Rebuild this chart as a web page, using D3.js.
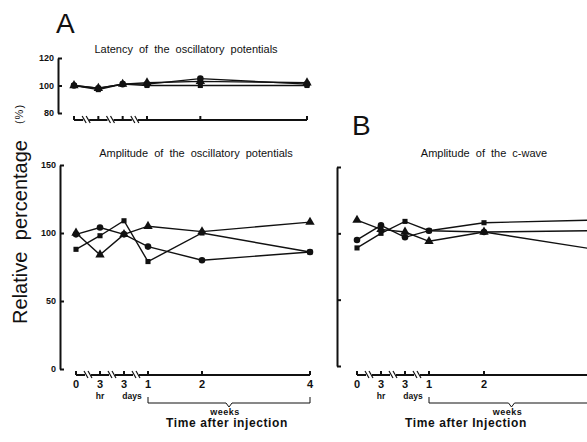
<!DOCTYPE html>
<html>
<head>
<meta charset="utf-8">
<script src="https://cdn.jsdelivr.net/npm/d3@7"></script>
<style>
body { margin: 0; background: #fff; }
text { font-family: "Liberation Sans", Arial, sans-serif; fill: #111; }
</style>
</head>
<body>
<script>
// time points after injection
var earlyKeys = ["0", "3 hr", "3 days"];
var earlyLabels = ["0", "3", "3"];
var earlyUnits = ["", "hr", "days"];
var weekLabels = [1, 2, 4];

// A top: latency of the oscillatory potentials (%)
var latCircle = [100, 98, 101, 101, 105, 101];
var latSquare = [100, 97, 101, 100, 100, 100];
var latTriangle = [100, 98, 101, 102, 103, 102];

// A bottom: amplitude of the oscillatory potentials (%)
var opCircle = [99, 104, 99, 90, 80, 86];
var opSquare = [88, 98, 109, 79, 100, 86];
var opTriangle = [100, 84, 99, 105, 101, 108];

// B: amplitude of the c-wave (%)
var cwCircle = [95, 106, 97, 102, 101, 88];
var cwSquare = [89, 100, 109, 102, 108, 110];
var cwTriangle = [110, 103, 101, 94, 101, 102];

var ampTicks = [0, 50, 100, 150];
var latTicks = [80, 100, 120];

var W = 587, H = 442;
var svg = d3.select("body").append("svg")
  .attr("width", W)
  .attr("height", H);

function drawPanel(p) {
  var g = svg.append("g");

  var early = d3.scalePoint().domain(earlyKeys.concat(["1 wk"])).range([p.x0, p.x1wk]);
  var weeks = d3.scaleLinear().domain([1, 4]).range([p.x1wk, p.x4wk]);
  var xAt = function(i) { return i < 3 ? early(earlyKeys[i]) : weeks(weekLabels[i - 3]); };

  var y = d3.scaleLinear().domain(p.domain).range(p.yRange);

  // y axis, ticks pointing inward
  var yAxis = d3.axisLeft(y).tickValues(p.ticks).tickSize(-4).tickSizeOuter(0).tickPadding(4);
  if (!p.yLabels) yAxis.tickFormat("");
  var ya = g.append("g")
    .attr("transform", `translate(${p.axisX},0)`)
    .call(yAxis);
  ya.selectAll("path, line").attr("stroke", "#111").attr("stroke-width", 2);
  ya.selectAll("text")
    .style("font-family", "Liberation Sans, Arial, sans-serif")
    .style("font-size", "9px")
    .style("font-weight", "bold")
    .attr("fill", "#111");

  // broken x axis
  var xs = [0, 1, 2, 3, 4, 5].map(xAt);
  var ax = g.append("g").attr("stroke", "#111").attr("stroke-width", 2).attr("fill", "none");
  var breaks = [0, 1, 2].map(function(i) { return (xs[i] + xs[i + 1]) / 2; });
  var segStart = xs[0];
  breaks.forEach(function(b) {
    ax.append("line").attr("x1", segStart).attr("x2", b - 3).attr("y1", p.axisY).attr("y2", p.axisY);
    [-2, 2].forEach(function(d) {
      ax.append("line")
        .attr("stroke-width", 1.2)
        .attr("x1", b + d - 2).attr("y1", p.axisY - 4)
        .attr("x2", b + d + 2).attr("y2", p.axisY + 3);
    });
    segStart = b + 3;
  });
  ax.append("line").attr("x1", segStart).attr("x2", xs[5]).attr("y1", p.axisY).attr("y2", p.axisY);
  xs.forEach(function(x) {
    ax.append("line").attr("x1", x).attr("x2", x).attr("y1", p.axisY).attr("y2", p.axisY - 4);
  });

  if (p.xLabels) {
    var lab = g.append("g").style("font-size", "11px").style("font-weight", "bold").attr("text-anchor", "middle");
    earlyLabels.concat(weekLabels.map(String)).forEach(function(t, i) {
      if (xs[i] > W - 6) return; // off the page in the original figure
      lab.append("text").attr("x", xs[i]).attr("y", p.axisY + 13).text(t);
    });
    var units = g.append("g").style("font-size", "8.5px").style("font-weight", "bold").attr("text-anchor", "middle");
    units.append("text").attr("x", xs[1]).attr("y", p.axisY + 24).text(earlyUnits[1]);
    units.append("text").attr("x", xs[2] + 8).attr("y", p.axisY + 24).text(earlyUnits[2]);

    // weeks bracket
    var by = p.axisY + 28;
    var mid = (xs[3] + xs[5]) / 2;
    g.append("path")
      .attr("fill", "none").attr("stroke", "#111").attr("stroke-width", 1)
      .attr("d", `M${xs[3]},${by - 6}V${by}H${mid - 3}L${mid},${by + 4}L${mid + 3},${by}H${xs[5]}V${by - 6}`);
    g.append("text").attr("x", mid - 4).attr("y", by + 12)
      .attr("text-anchor", "middle").style("font-size", "9px").style("font-weight", "bold")
      .style("letter-spacing", "0.5px").text("weeks");
    g.append("text").attr("x", p.captionX).attr("y", p.axisY + 52)
      .attr("text-anchor", "middle").style("font-size", "12px").style("font-weight", "bold")
      .style("letter-spacing", "0.6px")
      .text(p.caption);
  }

  g.append("text").attr("x", p.titleX).attr("y", p.titleY)
    .attr("text-anchor", "middle").style("font-size", "11px").style("word-spacing", "3px")
    .text(p.title);

  var line = d3.line().x(function(d, i) { return xAt(i); }).y(function(d) { return y(d); });
  var series = [
    { values: p.circle, shape: d3.symbolCircle, size: 34 },
    { values: p.square, shape: d3.symbolSquare, size: 26 },
    { values: p.triangle, shape: d3.symbolTriangle, size: 38 }
  ];
  series.forEach(function(s) {
    g.append("path").datum(s.values)
      .attr("fill", "none").attr("stroke", "#111").attr("stroke-width", 1.4)
      .attr("d", line);
  });
  series.forEach(function(s) {
    g.selectAll(null).data(s.values).enter().append("path")
      .attr("d", d3.symbol().type(s.shape).size(s.size))
      .attr("transform", function(d, i) { return `translate(${xAt(i)},${y(d)})`; })
      .attr("fill", "#111");
  });
}

// A top panel
drawPanel({
  x0: 74, x1wk: 147, x4wk: 307, axisY: 120, axisX: 58,
  domain: [80, 120], yRange: [113, 58], ticks: latTicks, yLabels: true, xLabels: false,
  title: "Latency of the oscillatory potentials", titleX: 186, titleY: 53,
  circle: latCircle, square: latSquare, triangle: latTriangle
});

// A bottom panel
drawPanel({
  x0: 76, x1wk: 148, x4wk: 310, axisY: 375, axisX: 60,
  domain: [0, 150], yRange: [369, 165], ticks: ampTicks, yLabels: true, xLabels: true,
  title: "Amplitude of the oscillatory potentials", titleX: 196, titleY: 157,
  caption: "Time after injection", captionX: 227,
  circle: opCircle, square: opSquare, triangle: opTriangle
});

// B panel
drawPanel({
  x0: 357, x1wk: 429, x4wk: 594, axisY: 375, axisX: 337,
  domain: [0, 150], yRange: [366, 167], ticks: ampTicks, yLabels: false, xLabels: true,
  title: "Amplitude of the c-wave", titleX: 484, titleY: 157,
  caption: "Time after Injection", captionX: 466,
  circle: cwCircle, square: cwSquare, triangle: cwTriangle
});

// panel letters and shared y label
svg.append("text").attr("x", 56).attr("y", 33).style("font-size", "28px").text("A");
svg.append("text").attr("x", 352).attr("y", 135).style("font-size", "28px").text("B");

svg.append("text")
  .attr("transform", "translate(27,232) rotate(-90)")
  .attr("text-anchor", "middle")
  .style("font-size", "20px").style("word-spacing", "6px")
  .text("Relative percentage");

svg.append("text")
  .attr("transform", "translate(23,114) rotate(-90)")
  .attr("text-anchor", "middle")
  .style("font-size", "11px").style("letter-spacing", "1px")
  .text("(%)");
</script>
</body>
</html>
